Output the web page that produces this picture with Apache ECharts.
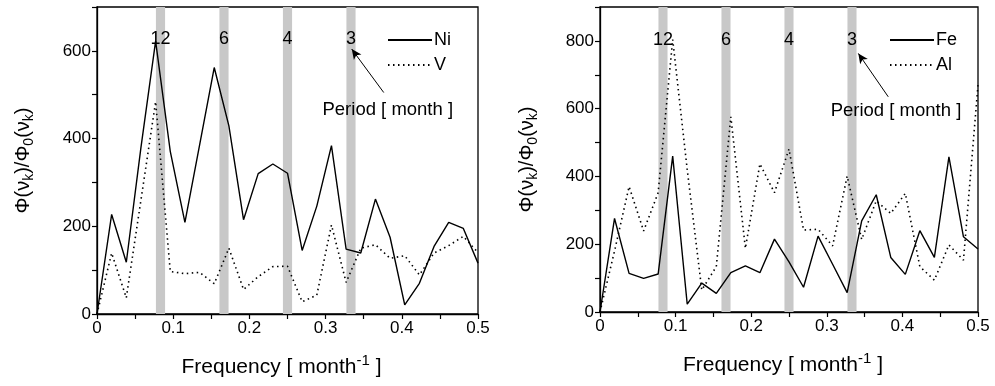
<!DOCTYPE html>
<html>
<head>
<meta charset="utf-8">
<script src="https://cdn.jsdelivr.net/npm/echarts@6/dist/echarts.min.js"></script>
<style>
  html, body { margin: 0; padding: 0; background: #fff; }
  #chart { width: 995px; height: 386px; }
</style>
</head>
<body>
<div id="chart"></div>
<script>
// frequencies k/52, k = 0..26
const freq = [];
for (let k = 0; k <= 26; k++) freq.push(k / 52);

const ni = [0, 227, 118, 380, 622, 371, 209, 385, 562, 429, 215, 320, 342, 321, 145, 246, 384, 148, 139, 262, 175, 21, 70, 154, 209, 195, 116];
const v  = [0, 139, 37, 260, 484, 97, 92, 95, 69, 150, 56, 85, 108, 109, 28, 43, 203, 72, 150, 158, 127, 133, 89, 139, 156, 177, 140];
const fe = [0, 276, 114, 99, 112, 460, 23, 85, 55, 116, 136, 116, 215, 148, 73, 224, 141, 57, 269, 346, 161, 111, 240, 161, 458, 222, 186];
const al = [0, 180, 370, 239, 352, 804, 420, 65, 134, 576, 188, 437, 352, 481, 242, 244, 195, 401, 214, 328, 291, 350, 134, 94, 198, 153, 670];

const periods = [12, 6, 4, 3];
const bandHalf = 0.006;

const FONT = "'Liberation Sans', Arial, sans-serif";

function pairs(ys) { return freq.map((f, i) => [f, ys[i]]); }

function bands() {
  return {
    silent: true,
    itemStyle: { color: '#c8c8c8' },
    label: { show: false },
    data: periods.map(p => [{ xAxis: 1 / p - bandHalf }, { xAxis: 1 / p + bandHalf }])
  };
}

const subTitle = '{a|Φ(ν}{s|k}{a|)/Φ}{s|0}{a|(ν}{s|k}{a|)}';
const nameRich = {
  a: { fontSize: 20, fontFamily: FONT, color: '#000', lineHeight: 26 },
  s: { fontSize: 14, fontFamily: FONT, color: '#000', lineHeight: 12, verticalAlign: 'bottom' },
  b: { fontSize: 21, fontFamily: FONT, color: '#000', lineHeight: 28 },
  u: { fontSize: 15, fontFamily: FONT, color: '#000', lineHeight: 12, verticalAlign: 'top' }
};

function xAxis(idx) {
  return {
    type: 'value', gridIndex: idx, min: 0, max: 0.5, interval: 0.1,
    name: '{b|Frequency [ month}{u|-1}{b| ]}',
    nameLocation: 'middle', nameGap: 39,
    nameTextStyle: { rich: nameRich, padding: [0, 12, 0, 0] },
    axisLine: { show: true, onZero: false, lineStyle: { color: '#000', width: 1.3 } },
    axisTick: { show: true, inside: false, length: 5, lineStyle: { color: '#000', width: 1.2 } },
    minorTick: { show: true, splitNumber: 2, length: 5, lineStyle: { color: '#000', width: 1.2 } },
    splitLine: { show: false },
    axisLabel: {
      color: '#000', fontSize: 17, fontFamily: FONT, margin: 6,
      formatter: val => val === 0 ? '0' : val.toFixed(1)
    }
  };
}

function yAxis(idx, max) {
  return {
    type: 'value', gridIndex: idx, min: 0, max: max, interval: 200,
    name: subTitle, nameLocation: 'middle', nameGap: max > 800 ? 60 : 61,
    nameTextStyle: { rich: nameRich },
    axisLine: { show: true, lineStyle: { color: '#000', width: 1.3 } },
    axisTick: { show: true, inside: false, length: 5, lineStyle: { color: '#000', width: 1.2 } },
    minorTick: { show: true, splitNumber: 2, length: 5, lineStyle: { color: '#000', width: 1.2 } },
    splitLine: { show: false },
    axisLabel: { color: '#000', fontSize: 17, fontFamily: FONT, margin: 6, showMaxLabel: false }
  };
}

function lineSeries(name, idx, ys, dotted) {
  return {
    name: name, type: 'line', xAxisIndex: idx, yAxisIndex: idx,
    data: pairs(ys), symbol: 'none', z: 5,
    lineStyle: { color: '#000', width: dotted ? 1.6 : 1.4, type: dotted ? [1.5, 3.5] : 'solid' }
  };
}

function arrow(idx, from, to) {
  return {
    type: 'line', xAxisIndex: idx, yAxisIndex: idx, data: [], silent: true, z: 6,
    markLine: {
      silent: true, symbol: ['none', 'arrow'], symbolSize: [7, 10],
      label: { show: false },
      lineStyle: { color: '#000', width: 1, type: 'solid' },
      data: [[{ coord: from }, { coord: to }]]
    }
  };
}

// text placed at data coordinates through an invisible scatter
function textSeries(idx, items) {
  return {
    type: 'scatter', xAxisIndex: idx, yAxisIndex: idx, symbolSize: 0, silent: true, z: 7,
    itemStyle: { opacity: 1 },
    data: items.map(it => ({
      value: it.pos, name: it.text,
      label: { fontSize: it.size }
    })),
    label: {
      show: true, position: 'inside', color: '#000', opacity: 1, fontFamily: FONT,
      formatter: p => p.name
    }
  };
}

const chart = echarts.init(document.getElementById('chart'));
chart.setOption({
  animation: false,
  backgroundColor: '#fff',
  grid: [
    { left: 97, right: 517, top: 7, bottom: 72, show: true, borderColor: '#000', borderWidth: 1.3 },
    { left: 600, right: 17, top: 7, bottom: 74, show: true, borderColor: '#000', borderWidth: 1.3 }
  ],
  legend: [
    {
      data: ['Ni', 'V'], orient: 'vertical', left: 382, top: 26, itemWidth: 44, itemHeight: 12, itemGap: 7,
      itemStyle: { opacity: 0 },
      textStyle: { color: '#000', fontSize: 18, fontFamily: FONT, padding: [0, 0, 0, -3] }
    },
    {
      data: ['Fe', 'Al'], orient: 'vertical', left: 884, top: 26, itemWidth: 44, itemHeight: 12, itemGap: 7,
      itemStyle: { opacity: 0 },
      textStyle: { color: '#000', fontSize: 18, fontFamily: FONT, padding: [0, 0, 0, -3] }
    }
  ],
  xAxis: [xAxis(0), xAxis(1)],
  yAxis: [yAxis(0, 700), yAxis(1, 900)],
  series: [
    { type: 'line', xAxisIndex: 0, yAxisIndex: 0, data: [], z: 1, markArea: bands() },
    { type: 'line', xAxisIndex: 1, yAxisIndex: 1, data: [], z: 1, markArea: bands() },
    lineSeries('Ni', 0, ni, false),
    lineSeries('V', 0, v, true),
    lineSeries('Fe', 1, fe, false),
    lineSeries('Al', 1, al, true),
    arrow(0, [0.3763, 505], [0.3343, 604]),
    arrow(1, [0.3813, 635], [0.3417, 763]),
    textSeries(0, periods.map(p => ({ pos: [1 / p, 627], text: String(p), size: 18 }))
      .concat([{ pos: [0.3816, 465], text: 'Period [ month ]', size: 18.5 }])),
    textSeries(1, periods.map(p => ({ pos: [1 / p, 804], text: String(p), size: 18 }))
      .concat([{ pos: [0.3915, 592], text: 'Period [ month ]', size: 18.5 }]))
  ]
});
</script>
</body>
</html>
